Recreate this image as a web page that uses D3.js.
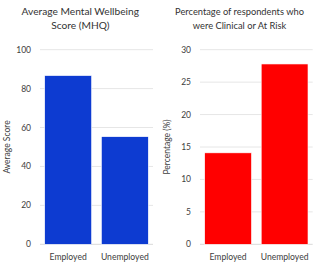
<!DOCTYPE html>
<html>
<head>
<meta charset="utf-8">
<script src="https://cdn.jsdelivr.net/npm/d3@7"></script>
<style>
  body { margin: 0; background: #fff; }
  svg text { font-family: Lato, "Open Sans", sans-serif; fill: #404040; }
</style>
</head>
<body>
<svg id="chart" width="320" height="266"></svg>
<script>
const categories = ['Employed', 'Unemployed'];
const wellbeingValues = [86.7, 55.3];
const wellbeingTicks = [0, 20, 40, 60, 80, 100];
const riskValues = [14.1, 27.8];
const riskTicks = [0, 5, 10, 15, 20, 25, 30];

const svg = d3.select('#chart');

function drawPanel(opts) {
  const g = svg.append('g');
  const x = d3.scaleBand()
    .domain(categories)
    .range([opts.left, opts.right])
    .paddingInner(0.172)
    .paddingOuter(0.083);
  const y = d3.scaleLinear()
    .domain([0, opts.max])
    .range([244.3, 49.7]);

  // gridlines
  g.append('g')
    .selectAll('line')
    .data(opts.ticks)
    .enter().append('line')
      .attr('x1', opts.left)
      .attr('x2', opts.right)
      .attr('y1', d => y(d))
      .attr('y2', d => y(d))
      .attr('stroke', d => d == 0 ? '#d9d9d9' : '#e6e6e6')
      .attr('stroke-width', 1);

  // bars
  g.append('g')
    .selectAll('rect')
    .data(opts.values)
    .enter().append('rect')
      .attr('x', (d, i) => x(categories[i]))
      .attr('y', d => y(d))
      .attr('width', x.bandwidth())
      .attr('height', d => y(0) - y(d))
      .attr('fill', opts.color)
      .attr('stroke', '#fff')
      .attr('stroke-width', 0.6);

  // y tick labels
  g.append('g')
    .selectAll('text')
    .data(opts.ticks)
    .enter().append('text')
      .attr('x', opts.left - 9)
      .attr('y', d => y(d))
      .attr('dy', '0.35em')
      .attr('text-anchor', 'end')
      .style('font-size', '8.5px')
      .text(d => d);

  // category labels
  g.append('g')
    .selectAll('text')
    .data(categories)
    .enter().append('text')
      .attr('x', d => x(d) + x.bandwidth() / 2)
      .attr('y', 259.5)
      .attr('text-anchor', 'middle')
      .style('font-size', '8.6px')
      .text(d => d);

  // y axis title
  g.append('text')
    .attr('transform', 'translate(' + opts.yLabelX + ',147) rotate(-90)')
    .attr('text-anchor', 'middle')
    .style('font-size', '8.5px')
    .text(opts.yLabel);

  // chart title
  const title = g.append('text')
    .attr('text-anchor', 'middle')
    .style('font-size', opts.titleSize + 'px')
    .style('fill', '#333');
  opts.title.forEach((line, i) => {
    title.append('tspan')
      .attr('x', opts.titleX)
      .attr('y', 15 + i * 13.5)
      .text(line);
  });
}

drawPanel({
  left: 40, right: 153, max: 100,
  values: wellbeingValues, ticks: wellbeingTicks,
  color: '#0d3bd1',
  yLabel: 'Average Score', yLabelX: 10,
  title: ['Average Mental Wellbeing', 'Score (MHQ)'], titleX: 80.3, titleSize: 10.2
});

drawPanel({
  left: 200, right: 312.7, max: 30,
  values: riskValues, ticks: riskTicks,
  color: '#ff0000',
  yLabel: 'Percentage (%)', yLabelX: 170,
  title: ['Percentage of respondents who', 'were Clinical or At Risk'], titleX: 239.5, titleSize: 9.3
});
</script>
</body>
</html>
